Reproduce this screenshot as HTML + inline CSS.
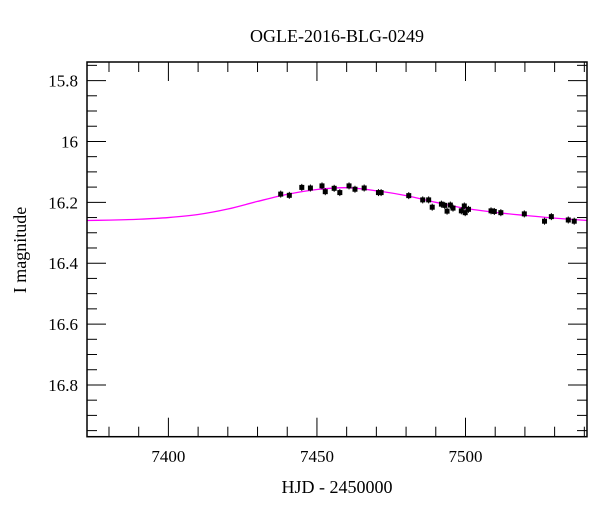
<!DOCTYPE html>
<html><head><meta charset="utf-8"><style>
body{margin:0;background:#fff;}
svg text{font-family:"Liberation Serif",serif;fill:#000;}
</style></head><body>
<svg id="chart" width="600" height="512" viewBox="0 0 600 512" xmlns="http://www.w3.org/2000/svg">
<text x="337" y="42" font-size="18" text-anchor="middle">OGLE-2016-BLG-0249</text>
<text x="337" y="493" font-size="18" text-anchor="middle">HJD - 2450000</text>
<text x="26" y="250" font-size="18" text-anchor="middle" transform="rotate(-90 26 250)">I magnitude</text>
<g id="ticks"></g>
<path id="model" fill="none" stroke="#ff00ff" stroke-width="1.3"/>
<g id="points"></g>
<rect x="87" y="62" width="500" height="374.7" fill="none" stroke="#000" stroke-width="1.5"/>
</svg>
<script>
const obsJD=[7437.8,7440.7,7444.9,7447.8,7451.7,7452.8,7455.8,7457.7,7460.8,7462.8,7465.9,7470.7,7471.6,7480.9,7485.6,7487.6,7488.8,7491.9,7493.0,7493.8,7494.9,7495.8,7498.6,7499.6,7499.9,7501.0,7508.6,7509.7,7511.9,7519.8,7526.6,7528.9,7534.6,7536.6];
const obsMag=[16.173,16.177,16.151,16.153,16.146,16.165,16.154,16.168,16.146,16.157,16.153,16.168,16.168,16.178,16.192,16.192,16.216,16.206,16.210,16.229,16.209,16.219,16.228,16.212,16.234,16.223,16.228,16.230,16.234,16.238,16.262,16.247,16.258,16.262];
const modelJD=[7370,7380,7390,7400,7410,7420,7430,7440,7450,7460,7470,7480,7490,7500,7510,7520,7530,7540,7545];
const modelMag=[16.260,16.2585,16.2555,16.250,16.240,16.222,16.197,16.174,16.158,16.152,16.162,16.178,16.200,16.220,16.233,16.243,16.252,16.259,16.261];
const xTicks=[7400,7450,7500];
const yTicks=[15.8,16,16.2,16.4,16.6,16.8];
const yTickLabels=["15.8","16","16.2","16.4","16.6","16.8"];

const X0=87,X1=587,Y0=62,Y1=436.7,XMIN=7372.6,XMAX=7540.9,YMIN=15.739,YMAX=16.970;
const sx=v=>X0+(v-XMIN)/(XMAX-XMIN)*(X1-X0);
const sy=v=>Y0+(v-YMIN)/(YMAX-YMIN)*(Y1-Y0);
const NS="http://www.w3.org/2000/svg";
function mk(tag,parent,attrs){const e=document.createElementNS(NS,tag);for(const k in attrs)e.setAttribute(k,attrs[k]);parent.appendChild(e);return e;}
const tg=document.getElementById('ticks');
for(let v=7380;v<=7540;v+=10){
  const major=xTicks.includes(v);const L=major?19:10;const x=sx(v);
  const b=mk('line',tg,{x1:x,x2:x,y1:Y1,y2:Y1-L,stroke:'#000','stroke-width':1});
  
  
  const t=mk('line',tg,{x1:x,x2:x,y1:Y0,y2:Y0+L,stroke:'#000','stroke-width':1});
  
  
}
xTicks.forEach(v=>{
  const t=mk('text',tg,{x:sx(v),y:462,'font-size':17,'text-anchor':'middle'});
  t.textContent=v;
  
  
});
for(let i=0;i<=24;i++){
  const v=15.75+i*0.05;if(v>YMAX)break;
  const major=Math.abs(Math.round(v*5)-v*5)<1e-6;const L=major?19:10;const y=sy(v);
  const l=mk('line',tg,{x1:X0,x2:X0+L,y1:y,y2:y,stroke:'#000','stroke-width':1});
  
  
  const r=mk('line',tg,{x1:X1,x2:X1-L,y1:y,y2:y,stroke:'#000','stroke-width':1});
  
  
}
yTicks.forEach((v,i)=>{
  const t=mk('text',tg,{x:78,y:sy(v)+6,'font-size':17,'text-anchor':'end'});
  t.textContent=yTickLabels[i];
  
  
});
const P=modelJD.map((j,i)=>[sx(j),sy(modelMag[i])]);
let d='M'+P[0][0]+','+P[0][1];
for(let i=0;i<P.length-1;i++){
  const p0=P[Math.max(0,i-1)],p1=P[i],p2=P[i+1],p3=P[Math.min(P.length-1,i+2)];
  d+=' C'+(p1[0]+(p2[0]-p0[0])/6)+','+(p1[1]+(p2[1]-p0[1])/6)+' '+(p2[0]-(p3[0]-p1[0])/6)+','+(p2[1]-(p3[1]-p1[1])/6)+' '+p2[0]+','+p2[1];
}
const svg=document.getElementById('chart');
const clip=mk('clipPath',svg,{id:'pc'});mk('rect',clip,{x:X0,y:Y0,width:X1-X0,height:Y1-Y0});
const m=document.getElementById('model');m.setAttribute('d',d);m.setAttribute('clip-path','url(#pc)');
const pg=document.getElementById('points');
obsJD.forEach((j,i)=>{
  const x=sx(j),y=sy(obsMag[i]);
  const e=mk('line',pg,{x1:x,x2:x,y1:y-3.5,y2:y+3.5,stroke:'#000','stroke-width':1});
  
  
  const r=mk('rect',pg,{x:x-2.5,y:y-2.5,width:5,height:5,fill:'#000'});
  
  
});
</script>
</body></html>
